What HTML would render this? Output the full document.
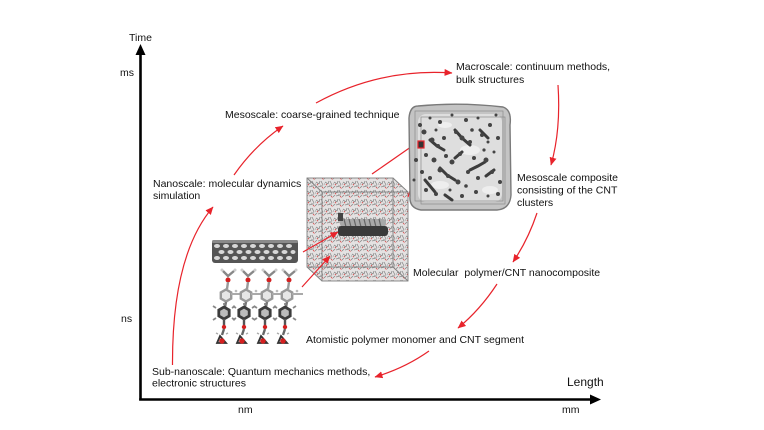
<!DOCTYPE html>
<html>
<head>
<meta charset="utf-8">
<style>
html,body{margin:0;padding:0;background:#fff;}
svg{display:block;}
text{font-family:"Liberation Sans",Arial,sans-serif;fill:#111;font-size:10.5px;}
</style>
</head>
<body>
<svg width="764" height="430" viewBox="0 0 764 430" xmlns="http://www.w3.org/2000/svg">
<defs>
<marker id="ra" markerWidth="8" markerHeight="7" refX="7.5" refY="3.5" orient="auto" markerUnits="userSpaceOnUse">
<path d="M0,0 L8,3.5 L0,7 Z" fill="#e8232b"/>
</marker>
<pattern id="mol" width="9" height="9" patternUnits="userSpaceOnUse">
<rect width="9" height="9" fill="#e4e2e2"/>
<path d="M1,2 l3,2 M6,1 l2,4 M3,7 l4,-1 M0,8 l2,-2 M4,4 l1,-3" stroke="#8a8a8a" stroke-width="0.8" fill="none"/>
<path d="M7,7 l1.5,1.5 M2,4 l1,1.2" stroke="#d84040" stroke-width="0.8" fill="none"/>
<path d="M5,5 l2,1 M8,5 l-1,2 M0,3 l1,2" stroke="#a8a8a8" stroke-width="0.7" fill="none"/>
</pattern>
</defs>

<!-- Axes -->
<line x1="140.5" y1="52" x2="140.5" y2="400.5" stroke="#000" stroke-width="2.6"/>
<polygon points="140.5,44 135.5,55 145.5,55" fill="#000"/>
<line x1="139.2" y1="399.5" x2="592" y2="399.5" stroke="#000" stroke-width="2.6"/>
<polygon points="601,399.5 590,394.5 590,404.5" fill="#000"/>

<text x="129" y="41">Time</text>
<text x="120" y="76">ms</text>
<text x="121" y="322">ns</text>
<text x="238" y="413">nm</text>
<text x="562" y="413">mm</text>
<text x="567" y="386" style="font-size:12px">Length</text>

<!-- Labels -->
<text x="225" y="118">Mesoscale: coarse-grained technique</text>
<text x="456" y="70">Macroscale: continuum methods,</text>
<text x="456" y="83">bulk structures</text>
<text x="517" y="181">Mesoscale composite</text>
<text x="517" y="193.5">consisting of the CNT</text>
<text x="517" y="206">clusters</text>
<text x="413" y="276">Molecular&#160; polymer/CNT nanocomposite</text>
<text x="306" y="343">Atomistic polymer monomer and CNT segment</text>
<text x="152" y="375">Sub-nanoscale: Quantum mechanics methods,</text>
<text x="152" y="386.5">electronic structures</text>
<text x="153" y="187">Nanoscale: molecular dynamics</text>
<text x="153" y="199">simulation</text>

<!-- Red curved arrows -->
<g fill="none" stroke="#e8232b" stroke-width="1.2" marker-end="url(#ra)">
<path d="M172.5,365 Q172,255 213,207"/>
<path d="M234,175 Q255,145 283,126"/>
<path d="M316,103 Q380,68 452,73"/>
<path d="M558,85 Q561,130 551,165"/>
<path d="M537,213 Q528,240 513,262"/>
<path d="M497,284 Q480,310 458,328"/>
<path d="M429,351 Q405,368 375,377"/>
</g>

<!-- Simulation box -->
<polygon points="307,178 393,178 408,192 408,281 322,281 307,267" fill="url(#mol)"/>
<g fill="none" stroke="#808080" stroke-width="0.9">
<rect x="307" y="178" width="86" height="89"/>
<rect x="322" y="192" width="86" height="89"/>
<line x1="307" y1="178" x2="322" y2="192"/>
<line x1="393" y1="178" x2="408" y2="192"/>
<line x1="307" y1="267" x2="322" y2="281"/>
<line x1="393" y1="267" x2="408" y2="281"/>
</g>
<!-- CNT inside box -->
<rect x="340" y="219" width="46" height="8" rx="3" fill="#a8a8a8"/>
<g stroke="#666" stroke-width="1.2">
<line x1="344" y1="219" x2="346" y2="227"/><line x1="349" y1="219" x2="351" y2="227"/>
<line x1="354" y1="219" x2="356" y2="227"/><line x1="359" y1="219" x2="361" y2="227"/>
<line x1="364" y1="219" x2="366" y2="227"/><line x1="369" y1="219" x2="371" y2="227"/>
<line x1="374" y1="219" x2="376" y2="227"/><line x1="379" y1="219" x2="381" y2="227"/>
</g>
<rect x="338" y="226" width="50" height="10" rx="3" fill="#3a3a3a"/>
<rect x="338" y="213" width="5" height="8" fill="#444"/>

<!-- Red connectors from CNT/monomer into box -->
<g fill="none" stroke="#e8232b" stroke-width="1.2" marker-end="url(#ra)">
<path d="M303,252 L338,232"/>
<path d="M302,287 L330,256"/>
</g>

<!-- Red connector lines to blob -->
<g stroke="#e8232b" stroke-width="1.2" fill="none">
<line x1="372" y1="174" x2="418" y2="142"/>
<line x1="408" y1="197" x2="424" y2="148"/>
</g>

<!-- Mesoscale blob -->
<path d="M418,106 Q460,102 503,107 Q512,110 510,125 L511,195 Q510,209 497,210 L421,210 Q409,208 410,196 L409,118 Q410,106 418,106 Z" fill="#c4c4c4" stroke="#7a7a7a" stroke-width="1.4"/>
<rect x="418" y="114" width="84" height="88" rx="8" fill="#dedede"/>
<g fill="none" stroke="#8c8c8c" stroke-width="0.7">
<rect x="415" y="111" width="88" height="90"/>
<rect x="421" y="117" width="84" height="87"/>
</g>
<g fill="#f2f2f2" opacity="0.8">
<ellipse cx="470" cy="150" rx="10" ry="5"/><ellipse cx="440" cy="185" rx="9" ry="4"/><ellipse cx="490" cy="190" rx="8" ry="4"/><ellipse cx="445" cy="125" rx="7" ry="3"/>
</g>
<g stroke="#3c3c3c" stroke-width="3" stroke-linecap="round" fill="none">
<path d="M430,140 L437,146 L444,150"/>
<path d="M455,130 L462,138 L470,145"/>
<path d="M440,168 L447,175 L455,180"/>
<path d="M470,170 L478,166 L485,162"/>
<path d="M425,180 L430,186 L435,192"/>
<path d="M480,130 L488,138"/>
<path d="M455,158 L462,152"/>
<path d="M445,195 L452,200"/>
<path d="M486,176 L494,170"/>
</g>
<g fill="#444">
<circle cx="420" cy="125" r="2"/><circle cx="424" cy="132" r="2.5"/><circle cx="430" cy="118" r="1.5"/>
<circle cx="440" cy="122" r="2"/><circle cx="452" cy="115" r="1.5"/><circle cx="466" cy="120" r="2"/>
<circle cx="478" cy="118" r="1.5"/><circle cx="490" cy="125" r="2"/><circle cx="496" cy="115" r="1.5"/>
<circle cx="432" cy="140" r="2.5"/><circle cx="438" cy="146" r="2"/><circle cx="444" cy="138" r="2"/>
<circle cx="456" cy="132" r="2"/><circle cx="462" cy="138" r="2.5"/><circle cx="470" cy="142" r="2"/>
<circle cx="482" cy="135" r="2"/><circle cx="488" cy="142" r="1.5"/><circle cx="498" cy="138" r="2"/>
<circle cx="426" cy="155" r="2"/><circle cx="434" cy="160" r="2.5"/><circle cx="446" cy="156" r="2"/>
<circle cx="452" cy="162" r="2.5"/><circle cx="460" cy="154" r="2"/><circle cx="474" cy="158" r="2"/>
<circle cx="486" cy="160" r="2.5"/><circle cx="494" cy="152" r="1.5"/><circle cx="422" cy="172" r="2"/>
<circle cx="430" cy="178" r="2"/><circle cx="440" cy="170" r="2.5"/><circle cx="448" cy="176" r="2"/>
<circle cx="458" cy="182" r="2.5"/><circle cx="468" cy="172" r="2"/><circle cx="478" cy="178" r="2"/>
<circle cx="492" cy="172" r="2"/><circle cx="500" cy="182" r="2"/><circle cx="426" cy="190" r="2"/>
<circle cx="436" cy="194" r="2"/><circle cx="450" cy="190" r="1.5"/><circle cx="462" cy="196" r="2"/>
<circle cx="476" cy="192" r="2"/><circle cx="488" cy="196" r="1.5"/><circle cx="498" cy="194" r="2"/>
<circle cx="416" cy="160" r="2"/><circle cx="414" cy="180" r="1.5"/>
<circle cx="436" cy="130" r="1.5"/><circle cx="472" cy="130" r="1.8"/><circle cx="466" cy="186" r="1.8"/><circle cx="484" cy="150" r="1.6"/>
</g>
<rect x="418" y="141" width="6" height="7" fill="#333" stroke="#e8232b" stroke-width="1.2"/>

<!-- CNT segment -->
<rect x="212" y="240" width="86" height="23" rx="3" fill="#555"/>
<rect x="212" y="240" width="86" height="3" rx="1.5" fill="#8a8a8a"/>
<g fill="#d8d8d8">
<ellipse cx="217" cy="246" rx="3" ry="2"/><ellipse cx="226" cy="246" rx="3" ry="2"/><ellipse cx="235" cy="246" rx="3" ry="2"/>
<ellipse cx="244" cy="246" rx="3" ry="2"/><ellipse cx="253" cy="246" rx="3" ry="2"/><ellipse cx="262" cy="246" rx="3" ry="2"/>
<ellipse cx="271" cy="246" rx="3" ry="2"/><ellipse cx="280" cy="246" rx="3" ry="2"/><ellipse cx="289" cy="246" rx="3" ry="2"/>
<ellipse cx="221.5" cy="252" rx="3" ry="2"/><ellipse cx="230.5" cy="252" rx="3" ry="2"/><ellipse cx="239.5" cy="252" rx="3" ry="2"/>
<ellipse cx="248.5" cy="252" rx="3" ry="2"/><ellipse cx="257.5" cy="252" rx="3" ry="2"/><ellipse cx="266.5" cy="252" rx="3" ry="2"/>
<ellipse cx="275.5" cy="252" rx="3" ry="2"/><ellipse cx="284.5" cy="252" rx="3" ry="2"/><ellipse cx="293" cy="252" rx="2.5" ry="2"/>
<ellipse cx="217" cy="258" rx="3" ry="2"/><ellipse cx="226" cy="258" rx="3" ry="2"/><ellipse cx="235" cy="258" rx="3" ry="2"/>
<ellipse cx="244" cy="258" rx="3" ry="2"/><ellipse cx="253" cy="258" rx="3" ry="2"/><ellipse cx="262" cy="258" rx="3" ry="2"/>
<ellipse cx="271" cy="258" rx="3" ry="2"/><ellipse cx="280" cy="258" rx="3" ry="2"/><ellipse cx="289" cy="258" rx="3" ry="2"/>
</g>

<!-- Polymer monomers -->
<g id="mono">
<path d="M223,271 L228,276 L234,271" stroke="#888" stroke-width="2.4" fill="none"/>
<circle cx="222" cy="270" r="1.5" fill="#ccc"/><circle cx="235" cy="270" r="1.5" fill="#ccc"/>
<circle cx="228" cy="280" r="2.5" fill="#d42020"/>
<line x1="228" y1="282" x2="227" y2="289" stroke="#999" stroke-width="2.4"/>
<polygon points="226,289.5 231.2,292.5 231.2,298.5 226,301.5 220.8,298.5 220.8,292.5" fill="#e6e6e6" stroke="#999" stroke-width="2.4"/>
<line x1="231" y1="294" x2="242" y2="294" stroke="#aaa" stroke-width="2"/>
<circle cx="236" cy="291" r="1.3" fill="#bbb"/>
<line x1="226" y1="302" x2="225" y2="307" stroke="#777" stroke-width="2.4"/>
<polygon points="224,307 229.2,310 229.2,316 224,319 218.8,316 218.8,310" fill="#bbb" stroke="#3c3c3c" stroke-width="2.8"/>
<path d="M216,308 l-3,-2 M232,308 l3,-2 M216,318 l-3,2 M232,318 l3,2 M224,305 l0,-2" stroke="#888" stroke-width="1.8"/>
<line x1="224" y1="319" x2="224" y2="325" stroke="#555" stroke-width="2.4"/>
<circle cx="224" cy="327" r="2.2" fill="#d42020"/>
<line x1="224" y1="329" x2="222" y2="335" stroke="#666" stroke-width="2.4"/>
<path d="M218,334 l-2,-1 M226,334 l2,-1" stroke="#aaa" stroke-width="1.5"/>
<polygon points="220,336 226,343 217,343" fill="#bbb" stroke="#333" stroke-width="1.8"/>
<circle cx="222" cy="341" r="2.7" fill="#d42020"/>
</g>
<use href="#mono" x="20" y="0"/>
<use href="#mono" x="41" y="0"/>
<use href="#mono" x="61" y="0"/>
</svg>
</body>
</html>
